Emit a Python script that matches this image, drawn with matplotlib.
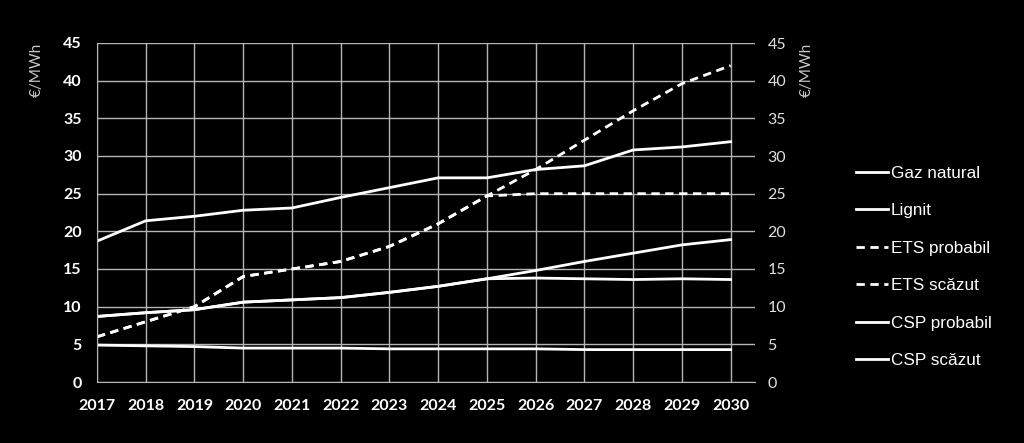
import matplotlib.pyplot as plt

# ani
ani = list(range(2017, 2031))

# preturi in euro/MWh
gaz_natural = [18.7, 21.4, 22.0, 22.8, 23.1, 24.5, 25.8, 27.1, 27.1, 28.2, 28.7, 30.8, 31.2, 31.9]
lignit = [4.9, 4.8, 4.7, 4.5, 4.5, 4.5, 4.4, 4.4, 4.4, 4.4, 4.3, 4.3, 4.3, 4.3]
ets_probabil = [6.0, 8.0, 10.0, 14.0, 15.0, 16.0, 18.0, 21.0, 24.7, 28.2, 32.1, 36.0, 39.6, 42.0]
ets_scazut = [6.0, 8.0, 10.0, 14.0, 15.0, 16.0, 18.0, 21.0, 24.7, 25.0, 25.0, 25.0, 25.0, 25.0]
csp_probabil = [8.7, 9.2, 9.6, 10.6, 10.9, 11.2, 11.9, 12.7, 13.7, 14.8, 16.0, 17.1, 18.2, 18.9]
csp_scazut = [8.7, 9.2, 9.6, 10.6, 10.9, 11.2, 11.9, 12.7, 13.7, 13.8, 13.7, 13.6, 13.7, 13.6]

fig = plt.figure(figsize=(10.24, 4.43), dpi=100, facecolor='black')
ax = fig.add_axes([97/1024, 61/443, (755-97)/1024, (382-43)/443])
ax.set_facecolor('black')

lw = 2.0
ax.plot(ani, gaz_natural, color='white', lw=lw, label='Gaz natural')
ax.plot(ani, lignit, color='white', lw=lw, label='Lignit')
ax.plot(ani, ets_probabil, color='white', lw=lw, dashes=(3, 2), label='ETS probabil')
ax.plot(ani, ets_scazut, color='white', lw=lw, dashes=(3, 2), label='ETS scăzut')
ax.plot(ani, csp_probabil, color='white', lw=lw, label='CSP probabil')
ax.plot(ani, csp_scazut, color='white', lw=lw, label='CSP scăzut')

ax.set_xlim(2017, 2030.5)
ax.set_ylim(0, 45)
ax.set_xticks(ani)
ax.set_yticks(range(0, 46, 5))
ax.grid(True, color='#b5b5b5', lw=1)
ax.set_axisbelow(True)
for s in ['top', 'right']:
    ax.spines[s].set_visible(False)
for s in ['left', 'bottom']:
    ax.spines[s].set_color('#b5b5b5')
ax.tick_params(length=0)
ax.tick_params(axis='y', pad=11)
ax.tick_params(axis='x', pad=12)
for t in ax.get_xticklabels() + ax.get_yticklabels():
    t.set_family('Lato')
    t.set_fontweight('bold')
    t.set_fontsize(11.5)
    t.set_color('white')
ax.set_ylabel('€/MWh', color='#c8c8c8', fontsize=11, family='Lato', labelpad=14, loc='top')

# axa din dreapta
ax2 = ax.twinx()
ax2.set_ylim(0, 45)
ax2.set_yticks(range(0, 46, 5))
for s in ax2.spines.values():
    s.set_visible(False)
ax2.tick_params(length=0, pad=9)
for t in ax2.get_yticklabels():
    t.set_family('Lato')
    t.set_fontsize(11.5)
    t.set_color('#e0e0e0')
ax2.set_ylabel('€/MWh', color='#c8c8c8', fontsize=11, family='Lato', labelpad=10, loc='top')

leg = fig.legend(*ax.get_legend_handles_labels(), loc='upper left',
                 bbox_to_anchor=(856/1024, 1 - 166/443), frameon=False,
                 borderpad=0, borderaxespad=0, handlelength=1.9,
                 handletextpad=0.15, labelspacing=1.31,
                 prop={'family': 'Liberation Sans', 'size': 12.3})
for t in leg.get_texts():
    t.set_color('white')

plt.savefig('out.png', dpi=100, facecolor='black')
